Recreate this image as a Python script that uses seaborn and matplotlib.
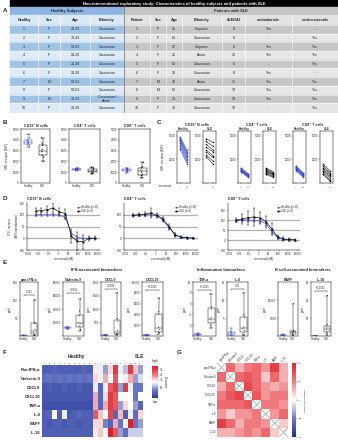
import numpy as np
import pandas as pd
import matplotlib
matplotlib.use("Agg")
import matplotlib.pyplot as plt
import seaborn as sns
from matplotlib.patches import Rectangle
from matplotlib.colors import LinearSegmentedColormap, TwoSlopeNorm

# ---------------- Table A ----------------
healthy_ids = [str(i) for i in range(1, 11)]
healthy_sex = ["F", "F", "F", "F", "F", "F", "M", "F", "M", "F"]
healthy_age = ["29-33", "39-43", "59-63", "24-28", "24-28", "24-28", "59-63", "59-63", "19-23", "24-28"]
healthy_eth = ["Caucasian"] * 8 + ["Caucasian /\nAsian", "Caucasian"]
patient_ids = [str(i) for i in range(1, 11)]
patient_sex = ["F", "F", "F", "F", "F", "F", "M", "M", "F", "F"]
patient_age = [26, 63, 27, 25, 62, 23, 19, 62, 35, 33]
patient_eth = ["Hispanic", "Caucasian", "Hispanic", "Asian", "Caucasian", "Caucasian",
               "Asian", "Caucasian", "Caucasian", "Caucasian"]
sledai = [8, 6, 6, 12, 6, 8, 31, 13, 10, 10]
antimalarials = ["Yes", "-", "Yes", "Yes", "-", "Yes", "Yes", "Yes", "Yes", "-"]
corticosteroids = ["-", "Yes", "Yes", "Yes", "Yes", "-", "Yes", "Yes", "Yes", "Yes"]

# ---------------- Panel B: baseline S1P1 receptor (MFI) ----------------
b_cells = ["CD19⁺ B cells", "CD4⁺ T cells", "CD8⁺ T cells"]
b_healthy = [[3300, 3500, 3600, 3700, 3750, 3800, 3900, 4000, 4200, 4500],
             [1150, 1200, 1220, 1250, 1280, 1300, 1320, 1350, 1380, 1400],
             [950, 1050, 1100, 1150, 1200, 1220, 1250, 1300, 1350, 1400]]
b_sle = [[2000, 2400, 2600, 2900, 3100, 3500, 3700, 4200],
         [850, 900, 1000, 1100, 1200, 1300, 1400, 1450],
         [500, 700, 800, 1000, 1200, 1400, 1500, 1900]]

# ---------------- Panel C: paired values without / with cenerimod ----------------
c_healthy_pre = [[4900, 4800, 4700, 4600, 4500, 4400, 4200, 4000, 3800, 3600],
                 [1600, 1550, 1500, 1450, 1400, 1350, 1300, 1250, 1200, 1150],
                 [1800, 1750, 1700, 1650, 1600, 1550, 1500, 1450, 1400, 1300]]
c_healthy_post = [[3500, 3300, 3200, 3000, 2900, 2700, 2500, 2400, 2200, 2000],
                  [1000, 950, 900, 850, 800, 780, 750, 700, 650, 600],
                  [1100, 1050, 1000, 950, 900, 850, 800, 750, 700, 600]]
c_sle_pre = [[4700, 4400, 4100, 3800, 3500, 3300, 3000, 2800],
             [1600, 1500, 1400, 1300, 1200, 1100, 1000, 900],
             [2000, 1800, 1600, 1500, 1300, 1200, 1000, 900]]
c_sle_post = [[4300, 3900, 3500, 3300, 2900, 2700, 2300, 2000],
              [1200, 1100, 1000, 950, 900, 800, 700, 600],
              [1300, 1100, 1000, 800, 700, 500, 300, 200]]

# ---------------- Panel D: dose-response ----------------
conc_nM = [0.005, 0.02, 0.08, 0.3, 1.2, 5, 20, 80, 300, 1200, 5000]
d_healthy = [[100, 100, 100, 100, 99, 88, 22, 3, 0, 0, 0],
             [98, 100, 100, 100, 95, 78, 45, 15, 5, 2, 0],
             [95, 100, 100, 98, 95, 82, 42, 12, 3, 1, 0]]
d_healthy_err = [[4, 3, 3, 3, 4, 6, 10, 5, 3, 3, 2],
                 [5, 5, 5, 6, 6, 8, 8, 6, 4, 3, 2],
                 [6, 8, 8, 8, 10, 10, 10, 8, 5, 4, 2]]
d_sle = [[115, 118, 122, 128, 112, 105, 8, -12, -15, 0, 0],
         [97, 100, 102, 108, 98, 82, 50, 14, 4, 2, 1],
         [100, 105, 112, 115, 110, 92, 55, 15, 5, 3, 0]]
d_sle_err = [[15, 12, 15, 20, 15, 20, 30, 40, 30, 10, 8],
             [5, 6, 8, 20, 10, 10, 10, 8, 5, 3, 2],
             [8, 25, 35, 45, 30, 30, 30, 12, 8, 8, 3]]

# ---------------- Panel E: plasma biomarkers (pg/ml) ----------------
e_names = ["pan-IFN-α", "Galectin-9", "CXCL9", "CXCL10", "TNF-α", "IL-6", "BAFF", "IL-10"]
e_healthy = [[0.2, 0.3, 0.5, 0.6, 0.8, 1.0, 1.2, 1.5, 1.8, 2.0],
             [10000, 10500, 11000, 11500, 12000, 12000, 12500, 13000, 13500, 14000],
             [10, 15, 20, 25, 30, 30, 35, 40, 45, 50],
             [80, 100, 120, 130, 150, 160, 170, 180, 200, 250],
             [0.1, 0.15, 0.2, 0.25, 0.3, 0.3, 0.35, 0.4, 0.45, 0.5],
             [0.1, 0.2, 0.3, 0.5, 0.6, 0.8, 1.0, 1.2, 1.5, 2.2],
             [200, 250, 300, 300, 350, 350, 400, 400, 450, 500],
             [0.1, 0.15, 0.2, 0.25, 0.3, 0.3, 0.35, 0.4, 0.45, 0.5]]
e_sle = [[0, 2, 5, 10, 18, 35, 38, 100],
         [8000, 10000, 15000, 18000, 20000, 30000, 37000, 55000],
         [40, 60, 90, 110, 200, 550, 650, 1600],
         [300, 600, 800, 1200, 1600, 4000, 4500, 7000],
         [1.5, 2.0, 2.6, 3.0, 3.4, 5.0, 5.4, 7.8],
         [0.2, 0.5, 1.5, 2.0, 2.5, 5.0, 6.0, 12.0],
         [100, 300, 600, 900, 1100, 1300, 1600, 9000],
         [1, 3, 5, 7, 9, 11, 13, 45]]
e_ymax = [150, 80000, 2000, 10000, 10, 15, 15000, 60]
e_ticks = [[0, 50, 100, 150], [0, 20000, 40000, 60000, 80000], [0, 500, 1000, 1500, 2000],
           [0, 2000, 4000, 6000, 8000, 10000], [0, 2, 4, 6, 8, 10], [0, 5, 10, 15],
           [0, 5000, 10000], [0, 20, 40, 60]]
e_pvalues = ["0.003", "0.0001", "0.0003", "<0.0001", "<0.0001", "0.02", None, "<0.0001"]
e_bracket = [115, 64000, 1750, 8600, 8.6, 13, None, 50]
e_groups = ["IFN-associated biomarkers", "Inflammation biomarkers", "B cell-associated biomarkers"]

# ---------------- Panel F: Z-scores ----------------
f_rows = ["Pan-IFN-α", "Galectin-9", "CXCL9", "CXCL10", "TNF-α", "IL-6", "BAFF", "IL-10"]
f_cols = [str(i) for i in range(1, 11)] * 2
f_healthy = [[-0.6, -0.6, -0.5, -0.6, -0.6, -0.6, -0.6, -0.6, -0.5, -0.6],
             [-0.4, -0.3, -0.4, -0.3, -0.4, -0.3, -0.4, -0.3, -0.4, -0.3],
             [-0.7, -0.6, -0.7, -0.7, -0.6, -0.7, -0.7, -0.6, -0.7, -0.7],
             [-0.7, -0.7, -0.7, -0.7, -0.7, -0.7, -0.7, -0.7, -0.7, -0.7],
             [-0.8, -0.8, -0.8, -0.8, -0.8, -0.8, -0.8, -0.8, -0.8, -0.8],
             [-0.6, -0.5, 0.6, -0.6, 0.5, -0.7, -0.6, -0.5, -0.6, -0.6],
             [-0.6, -0.7, -0.6, -0.6, -0.7, -0.6, -0.6, -0.7, -0.6, -0.6],
             [-0.6, -0.6, -0.6, -0.6, -0.6, -0.6, -0.6, -0.6, -0.6, -0.6]]
f_sle = [[0.8, 0.5, 0.0, 1.0, 3.0, 0.5, 0.2, 3.0, 1.2, 0.0],
         [1.0, 0.5, 1.5, 0.6, 2.5, 0.6, 0.5, 1.5, 0.0, 0.4],
         [0.5, -0.5, 0.5, 2.5, 3.0, 0.0, 3.0, 0.5, -0.3, -0.3],
         [1.5, -0.5, 1.0, 3.0, 2.5, 0.6, 0.6, 0.6, -0.3, 0.6],
         [1.5, -0.5, 1.5, 3.0, 2.5, 0.0, 1.0, 0.6, 0.0, -0.5],
         [2.5, 1.2, 0.6, 2.8, -0.5, 1.3, -0.6, 0.5, -0.4, 1.0],
         [1.0, 1.0, -0.2, -0.5, 1.5, -0.3, 0.5, 3.5, -0.3, 0.0],
         [0.5, 1.2, 0.6, 3.5, 2.5, 0.0, -0.4, 0.3, 0.3, 0.3]]

# ---------------- Panel G: Spearman correlations ----------------
g_labels = ["pan-IFN-α", "Galectin-9", "CXCL9", "CXCL10", "TNF-α", "IL-6", "BAFF", "IL-10"]
g_corr = [[1.0, 0.6, 0.3, 0.5, 0.6, 0.4, 0.85, 0.3],
          [0.6, 1.0, 0.6, 0.7, 0.6, 0.2, 0.6, 0.3],
          [0.3, 0.6, 1.0, 0.8, 0.6, 0.4, 0.3, 0.4],
          [0.5, 0.7, 0.8, 1.0, 0.7, 0.4, 0.5, 0.5],
          [0.6, 0.6, 0.6, 0.7, 1.0, 0.5, 0.5, 0.4],
          [0.4, 0.2, 0.4, 0.4, 0.5, 1.0, 0.4, 0.6],
          [0.85, 0.6, 0.3, 0.5, 0.5, 0.4, 1.0, 0.2],
          [0.3, 0.3, 0.4, 0.5, 0.4, 0.6, 0.2, 1.0]]

# ================= styling =================
sns.set_theme(style="ticks")
plt.rcParams["font.family"] = ["Liberation Sans", "DejaVu Sans"]
plt.rcParams.update({
    "axes.linewidth": 0.35, "axes.edgecolor": "black",
    "xtick.major.width": 0.3, "ytick.major.width": 0.3,
    "xtick.major.size": 1.0, "ytick.major.size": 1.0,
    "xtick.major.pad": 0.5, "ytick.major.pad": 0.5,
    "xtick.labelsize": 2.0, "ytick.labelsize": 2.0,
    "axes.labelpad": 0.8, "axes.titlepad": 1.5,
})
BLUE = "#3447c4"
W, H = 338, 440
fig = plt.figure(figsize=(W / 100, H / 100), dpi=100)
fig.patch.set_facecolor("white")


def px_axes(x0, y0, x1, y1):
    return fig.add_axes([x0 / W, 1 - y1 / H, (x1 - x0) / W, (y1 - y0) / H])


def letter(x, y, s):
    fig.text(x / W, 1 - y / H, s, fontsize=4.5, fontweight="bold", ha="left", va="center")


def ftext(x, y, s, **kw):
    fig.text(x / W, 1 - y / H, s, ha="center", va="center", **kw)


# ================= A: table =================
letter(3, 10, "A")
tax = px_axes(0, 0, W, 113)
tax.set_xlim(0, W)
tax.set_ylim(113, 0)
tax.axis("off")
tax.add_patch(Rectangle((10, 0.5), 328, 6.5, color="black"))
tax.text(174, 3.8, "Non-interventional exploratory study: Characteristics of healthy subjects and patients with SLE",
         color="white", fontsize=2.9, fontweight="bold", ha="center", va="center")
tax.add_patch(Rectangle((10, 7), 114, 8, color="#8db4e2"))
tax.add_patch(Rectangle((124, 7), 214, 8, color="#c4c4c4"))
tax.text(67, 11, "Healthy Subjects", fontsize=2.9, fontweight="bold", ha="center", va="center")
tax.text(231, 11, "Patients with SLE", fontsize=2.9, fontweight="bold", ha="center", va="center")

h_bounds = [10, 38, 60, 90, 124]
p_bounds = [124, 150, 166, 182, 222, 245, 292, 338]
h_heads = ["Healthy", "Sex", "Age", "Ethnicity"]
p_heads = ["Patient", "Sex", "Age", "Ethnicity", "SLEDAI", "antimalarials", "corticosteroids"]
tax.add_patch(Rectangle((10, 15.5), 114, 9.5, color="#dbe8f5"))
tax.add_patch(Rectangle((124, 15.5), 214, 9.5, color="#e3e3e3"))
for i, t in enumerate(h_heads):
    tax.text((h_bounds[i] + h_bounds[i + 1]) / 2, 20.3, t, fontsize=2.7, fontweight="bold", ha="center", va="center")
for i, t in enumerate(p_heads):
    tax.text((p_bounds[i] + p_bounds[i + 1]) / 2, 20.3, t, fontsize=2.7, fontweight="bold", ha="center", va="center")

row_h = 8.7
for r in range(10):
    y0 = 25 + r * row_h
    hc = "#9fc3e7" if r % 2 == 0 else "#deebf7"
    pc = "#c6c6c6" if r % 2 == 0 else "#e6e6e6"
    tax.add_patch(Rectangle((10, y0), 114, row_h, color=hc))
    tax.add_patch(Rectangle((124, y0), 214, row_h, color=pc))
    hvals = [healthy_ids[r], healthy_sex[r], healthy_age[r], healthy_eth[r]]
    pvals = [patient_ids[r], patient_sex[r], str(patient_age[r]), patient_eth[r], str(sledai[r]),
             antimalarials[r], corticosteroids[r]]
    for i, t in enumerate(hvals):
        tax.text((h_bounds[i] + h_bounds[i + 1]) / 2, y0 + row_h / 2, t, fontsize=2.6,
                 ha="center", va="center", linespacing=0.9)
    for i, t in enumerate(pvals):
        tax.text((p_bounds[i] + p_bounds[i + 1]) / 2, y0 + row_h / 2, t, fontsize=2.6,
                 ha="center", va="center")
    tax.plot([10, 338], [y0, y0], color="white", lw=0.4)
for xb in h_bounds[1:-1] + p_bounds[1:-1]:
    tax.plot([xb, xb], [15.5, 112], color="white", lw=0.4)
tax.plot([124, 124], [7, 112], color="#707070", lw=0.5)


# ================= helpers =================
def box_panel(ax, hv, sv, lw=0.35, dot=0.9):
    df = pd.DataFrame({"group": ["Healthy"] * len(hv) + ["SLE"] * len(sv), "value": list(hv) + list(sv)})
    pal = {"Healthy": BLUE, "SLE": "black"}
    sns.boxplot(data=df, x="group", y="value", hue="group", palette=pal, fill=False,
                whis=(0, 100), width=0.55, linewidth=lw, showfliers=False, legend=False, ax=ax)
    sns.stripplot(data=df, x="group", y="value", hue="group", palette=pal, size=dot,
                  jitter=0.08, legend=False, ax=ax, linewidth=0)
    ax.set_xlabel("")
    ax.tick_params(axis="x", length=0, pad=0.8)
    for s in ax.spines.values():
        s.set_linewidth(0.35)


# ================= B =================
letter(3, 123, "B")
b_pos = [(21, 50), (69, 100), (119, 150)]
for k in range(3):
    ax = px_axes(b_pos[k][0], 129, b_pos[k][1], 183)
    box_panel(ax, b_healthy[k], b_sle[k])
    ax.set_ylim(0, 5000)
    ax.set_yticks([0, 1000, 2000, 3000, 4000, 5000])
    ax.set_title(b_cells[k], fontsize=2.6, fontweight="bold")
    ax.set_ylabel("S1P$_1$ receptor (MFI)" if k == 0 else "", fontsize=2.2)

# ================= C =================
letter(157, 123, "C")
c_pos = [(177, 190), (203, 216), (238, 251), (263, 276), (293, 306), (320, 333)]
for k in range(3):
    for j, (pre, post, col, name) in enumerate([(c_healthy_pre[k], c_healthy_post[k], BLUE, "Healthy"),
                                               (c_sle_pre[k], c_sle_post[k], "black", "SLE")]):
        x0, x1 = c_pos[2 * k + j]
        ax = px_axes(x0, 131, x1, 183)
        n = len(pre)
        df = pd.DataFrame({"subject": list(range(n)) * 2, "treat": [0] * n + [1] * n,
                           "value": list(pre) + list(post)})
        sns.lineplot(data=df, x="treat", y="value", units="subject", estimator=None, color=col,
                     lw=0.35, marker="o", markersize=1.1, markeredgewidth=0, ax=ax)
        ax.set_xlim(-0.4, 1.4)
        ax.set_ylim(0, 5500)
        ax.set_yticks([0, 2500, 5000])
        ax.set_yticklabels(["", "2500", "5000"])
        ax.set_xticks([0, 1])
        ax.set_xticklabels(["-", "+"], fontsize=2.4)
        ax.set_xlabel("")
        ax.set_ylabel("S1P$_1$ receptor (MFI)" if (k == 0 and j == 0) else "", fontsize=2.2)
        ax.set_title(name, fontsize=2.2, fontweight="bold", pad=0.8)
    ftext((c_pos[2 * k][0] + c_pos[2 * k + 1][1]) / 2, 125, b_cells[k], fontsize=2.6, fontweight="bold")
ftext(166, 186.3, "cenerimod:", fontsize=2.0)

# ================= D =================
letter(3, 198, "D")
d_pos = [(27, 100), (124, 198), (228, 300)]
for k in range(3):
    ax = px_axes(d_pos[k][0], 203, d_pos[k][1], 250)
    for yv in (0, 50, 100):
        ax.axhline(yv, color="#b0b0b0", lw=0.9, zorder=0)
    ax.errorbar(conc_nM, d_healthy[k], yerr=d_healthy_err[k], fmt="none", ecolor=BLUE, elinewidth=0.35,
                capsize=0.8, capthick=0.35)
    ax.errorbar(conc_nM, d_sle[k], yerr=d_sle_err[k], fmt="none", ecolor="black", elinewidth=0.35,
                capsize=0.8, capthick=0.35)
    sns.lineplot(x=conc_nM, y=d_healthy[k], color=BLUE, lw=0.45, marker="^", markersize=1.5,
                 markeredgewidth=0, ax=ax, label="Healthy (n=10)")
    sns.lineplot(x=conc_nM, y=d_sle[k], color="black", lw=0.45, marker="s", markersize=1.3,
                 markeredgewidth=0, ax=ax, label="SLE (n=8)")
    ax.set_xscale("log")
    ax.set_xlim(0.0007, 15000)
    ax.set_xticks([0.001, 0.01, 0.1, 1, 10, 100, 1000, 10000])
    ax.set_xticklabels(["0.001", "0.01", "0.1", "1", "10", "100", "1000", "10000"])
    ax.minorticks_off()
    if k == 0:
        ax.set_ylim(-50, 150)
        ax.set_yticks([-50, 0, 50, 100, 150])
    elif k == 1:
        ax.set_ylim(-50, 150)
        ax.set_yticks([-50, 0, 50, 100])
    else:
        ax.set_ylim(-50, 185)
        ax.set_yticks([-50, 0, 50, 100, 150])
    ax.set_xlabel("cenerimod [nM]", fontsize=2.0)
    ax.set_ylabel("S1P$_1$ receptor\n(MFI normalization)" if k == 0 else "", fontsize=2.0)
    ax.set_title(b_cells[k], fontsize=2.6, fontweight="bold", loc="left", pad=2)
    sns.despine(ax=ax)
    ax.legend(loc="upper right", fontsize=1.9, frameon=False, handlelength=1.2,
              borderpad=0.2, labelspacing=0.2, handletextpad=0.4)

# ================= E =================
letter(3, 262, "E")
e_pos = [(20, 38), (63, 84), (101, 121), (142, 163), (193, 216), (227, 248), (278, 298), (311, 331)]
for k in range(8):
    ax = px_axes(e_pos[k][0], 282, e_pos[k][1], 336)
    box_panel(ax, e_healthy[k], e_sle[k], lw=0.3, dot=0.7)
    ax.set_ylim(0, e_ymax[k])
    ax.set_yticks(e_ticks[k])
    ax.set_yticklabels([""] + [str(t) for t in e_ticks[k][1:]])
    ax.set_ylabel("pg/ml", fontsize=1.9)
    ax.set_title(e_names[k], fontsize=2.5, fontweight="bold", pad=1.0)
    if e_pvalues[k] is not None:
        yb = e_bracket[k]
        d = e_ymax[k] * 0.02
        ax.plot([0, 0, 1, 1], [yb - d, yb, yb, yb - d], color="black", lw=0.3)
        ax.text(0.5, yb + d * 0.8, e_pvalues[k], fontsize=1.8, ha="center", va="bottom")
ftext(97, 270, e_groups[0], fontsize=2.9, fontweight="bold")
ftext(221, 270, e_groups[1], fontsize=2.9, fontweight="bold")
ftext(303, 270, e_groups[2], fontsize=2.9, fontweight="bold")

# ================= F =================
letter(3, 352, "F")
f_vals = np.hstack([np.array(f_healthy), np.array(f_sle)])
zcmap = LinearSegmentedColormap.from_list("zs", ["#2a3a9c", "#6a79c4", "#ffffff", "#ef6f73", "#d21f28"])
fax = px_axes(42, 365, 143, 437)
fcb = px_axes(152, 366, 158, 398)
sns.heatmap(f_vals, ax=fax, cmap=zcmap, norm=TwoSlopeNorm(vmin=-1.1, vcenter=0.6, vmax=3.6),
            cbar_ax=fcb, cbar_kws={"ticks": [0, 1, 2, 3]},
            xticklabels=f_cols, yticklabels=f_rows)
fax.xaxis.tick_top()
fax.tick_params(axis="x", labelsize=1.6, length=0, pad=0.6, rotation=0)
fax.tick_params(axis="y", labelsize=3.0, length=0, pad=1.0, rotation=0)
for t in fax.get_yticklabels():
    t.set_fontweight("bold")
fcb.tick_params(labelsize=2.8, length=1, width=0.3, pad=0.5)
fcb.set_ylabel("Z-score", fontsize=2.6, rotation=270, labelpad=3)
for s in fcb.spines.values():
    s.set_visible(False)
ftext(155, 361, "high", fontsize=2.5)
ftext(155, 402, "low", fontsize=2.5)
ftext(76, 356, "Healthy", fontsize=3.4, fontweight="bold")
ftext(140, 356, "SLE", fontsize=3.4, fontweight="bold")

# ================= G =================
letter(177, 352, "G")
corr = np.array(g_corr)
mask = np.eye(len(g_labels), dtype=bool)
ccmap = LinearSegmentedColormap.from_list("cc", ["#1f2f8f", "#6a78c0", "#ffffff", "#f07a7e", "#e0262e"])
gax = px_axes(217, 363, 288, 437)
gcb = px_axes(292, 363, 296, 437)
sns.heatmap(corr, mask=mask, ax=gax, cmap=ccmap, vmin=-1, vmax=1, cbar_ax=gcb,
            cbar_kws={"ticks": [-1, -0.5, 0, 0.5, 1]},
            xticklabels=g_labels, yticklabels=g_labels)
for i in range(len(g_labels)):
    gax.plot([i, i + 1], [i, i + 1], color="#8a8a8a", lw=0.4)
    gax.plot([i, i + 1], [i + 1, i], color="#8a8a8a", lw=0.4)
gax.xaxis.tick_top()
gax.tick_params(axis="x", labelsize=2.0, length=0, pad=0.5)
gax.tick_params(axis="y", labelsize=2.0, length=0, pad=0.8, rotation=0)
plt.setp(gax.get_xticklabels(), rotation=45, ha="left", rotation_mode="anchor")
gcb.set_yticklabels(["-1.0", "-0.5", "0", "0.5", "1.0"])
gcb.tick_params(labelsize=1.7, length=1, width=0.3, pad=0.5)
gcb.set_ylabel("Spearman correlation", fontsize=1.7, rotation=90, labelpad=1.5)
for s in gcb.spines.values():
    s.set_visible(False)

fig.savefig("out.png", dpi=100)
